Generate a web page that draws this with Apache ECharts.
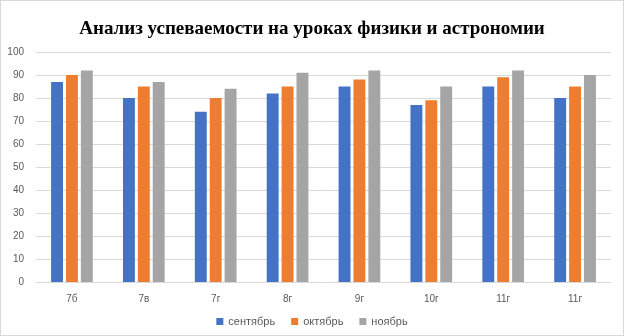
<!DOCTYPE html>
<html>
<head>
<meta charset="utf-8">
<script src="https://cdn.jsdelivr.net/npm/echarts@6/dist/echarts.min.js"></script>
<style>
  html, body { margin: 0; padding: 0; background: #fff; }
  #chart { width: 622px; height: 334px; border: 1px solid #d9d9d9; }
</style>
</head>
<body>
<div id="chart"></div>
<script>
// классы и оценки по месяцам
const classes = ['7б', '7в', '7г', '8г', '9г', '10г', '11г', '11г'];
const september = [87, 80, 74, 82, 85, 77, 85, 80];
const october = [90, 85, 80, 85, 88, 79, 89, 85];
const november = [92, 87, 84, 91, 92, 85, 92, 90];
const seriesNames = ['сентябрь', 'октябрь', 'ноябрь'];
const colors = ['#4472c4', '#ed7d31', '#a5a5a5'];

const chart = echarts.init(document.getElementById('chart'));
const labelFont = { color: '#595959', fontSize: 10, fontFamily: 'Liberation Sans' };

function bar(name, data, i) {
    return {
        name: name,
        type: 'bar',
        data: data,
        barGap: '25%',
        barCategoryGap: '42%',
        itemStyle: { color: colors[i] }
    };
}

chart.setOption({
    animation: false,
    title: {
        text: 'Анализ успеваемости на уроках физики и астрономии',
        left: 'center',
        top: 14,
        textStyle: {
            fontFamily: 'Liberation Serif',
            fontWeight: 'bold',
            fontSize: 19,
            color: '#000'
        }
    },
    legend: {
        bottom: 3,
        left: 'center',
        itemWidth: 7,
        itemHeight: 7,
        itemGap: 16,
        icon: 'rect',
        textStyle: { color: '#595959', fontSize: 11, fontFamily: 'Liberation Sans' },
        data: seriesNames
    },
    grid: { left: 35, right: 12, top: 51, bottom: 53 },
    xAxis: {
        type: 'category',
        data: classes,
        axisTick: { show: false },
        axisLine: { lineStyle: { color: '#d9d9d9' } },
        axisLabel: Object.assign({ margin: 12 }, labelFont)
    },
    yAxis: {
        type: 'value',
        min: 0,
        max: 100,
        interval: 10,
        axisLine: { show: false },
        axisTick: { show: false },
        splitLine: { lineStyle: { color: '#d9d9d9' } },
        axisLabel: Object.assign({ margin: 12 }, labelFont)
    },
    series: [
        bar(seriesNames[0], september, 0),
        bar(seriesNames[1], october, 1),
        bar(seriesNames[2], november, 2)
    ]
});
</script>
</body>
</html>
